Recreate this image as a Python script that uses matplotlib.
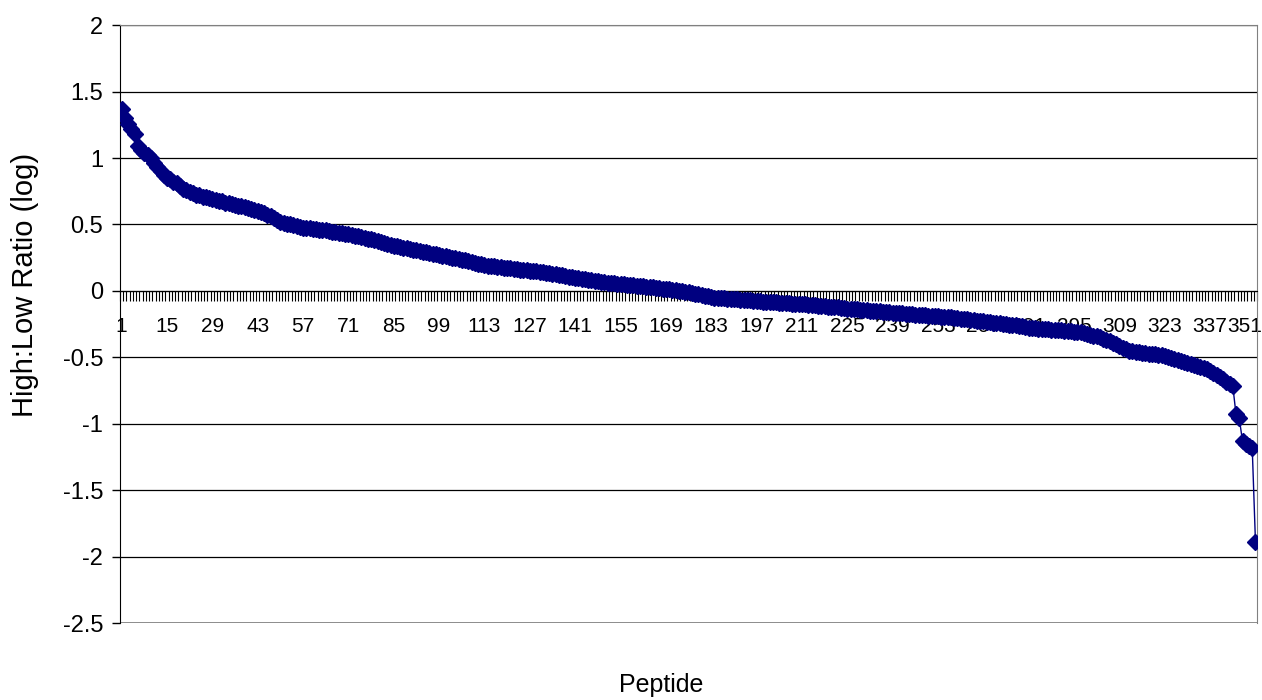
import numpy as np
import matplotlib
matplotlib.use("Agg")
import matplotlib.pyplot as plt
from matplotlib.ticker import FixedLocator, NullFormatter

plt.rcParams['font.family'] = ['Liberation Sans', 'DejaVu Sans']

# High:Low ratio (log) per peptide, sorted
ratio = [
    1.37, 1.30, 1.26, 1.22, 1.18, 1.09, 1.06, 1.04, 1.02, 1.00,
    0.96, 0.93, 0.90, 0.87, 0.85, 0.84, 0.82, 0.81, 0.79, 0.77,
    0.76, 0.745, 0.735, 0.725, 0.72, 0.71, 0.705, 0.70, 0.695, 0.685,
    0.68, 0.675, 0.665, 0.66, 0.655, 0.648, 0.642, 0.636, 0.63, 0.624,
    0.618, 0.61, 0.602, 0.595, 0.585, 0.575, 0.562, 0.55, 0.53, 0.517,
    0.512, 0.506, 0.50, 0.494, 0.487, 0.48, 0.476, 0.473, 0.47, 0.467,
    0.464, 0.461, 0.458, 0.455, 0.45, 0.446, 0.442, 0.438, 0.434, 0.43,
    0.425, 0.42, 0.415, 0.41, 0.405, 0.40, 0.393, 0.387, 0.38, 0.374,
    0.367, 0.361, 0.355, 0.348, 0.341, 0.335, 0.33, 0.325, 0.32, 0.315,
    0.31, 0.305, 0.30, 0.295, 0.29, 0.285, 0.28, 0.275, 0.27, 0.265,
    0.26, 0.255, 0.25, 0.245, 0.24, 0.235, 0.23, 0.224, 0.218, 0.212,
    0.206, 0.20, 0.194, 0.19, 0.187, 0.184, 0.181, 0.178, 0.175, 0.172,
    0.17, 0.167, 0.164, 0.161, 0.158, 0.155, 0.152, 0.149, 0.146, 0.143,
    0.14, 0.136, 0.132, 0.128, 0.124, 0.12, 0.116, 0.112, 0.108, 0.104,
    0.10, 0.097, 0.093, 0.089, 0.085, 0.082, 0.078, 0.074, 0.07, 0.066,
    0.063, 0.06, 0.058, 0.055, 0.052, 0.05, 0.047, 0.044, 0.041, 0.038,
    0.036, 0.034, 0.032, 0.029, 0.026, 0.023, 0.02, 0.017, 0.014, 0.011,
    0.008, 0.005, 0.002, 0.0, -0.005, -0.01, -0.015, -0.02, -0.025, -0.03,
    -0.035, -0.04, -0.045, -0.05, -0.052, -0.054, -0.056, -0.058, -0.06, -0.062,
    -0.064, -0.066, -0.068, -0.07, -0.072, -0.075, -0.077, -0.079, -0.08, -0.082,
    -0.083, -0.085, -0.087, -0.088, -0.09, -0.092, -0.093, -0.095, -0.097, -0.098,
    -0.10, -0.102, -0.105, -0.107, -0.109, -0.111, -0.114, -0.116, -0.118, -0.121,
    -0.123, -0.125, -0.128, -0.13, -0.133, -0.135, -0.137, -0.139, -0.142, -0.144,
    -0.146, -0.148, -0.151, -0.153, -0.155, -0.157, -0.16, -0.162, -0.164, -0.166,
    -0.168, -0.17, -0.172, -0.174, -0.176, -0.178, -0.18, -0.182, -0.184, -0.186,
    -0.188, -0.19, -0.192, -0.194, -0.196, -0.198, -0.20, -0.203, -0.206, -0.209,
    -0.212, -0.215, -0.218, -0.221, -0.224, -0.227, -0.23, -0.233, -0.236, -0.239,
    -0.242, -0.245, -0.248, -0.251, -0.254, -0.257, -0.26, -0.264, -0.268, -0.272,
    -0.276, -0.279, -0.282, -0.284, -0.286, -0.288, -0.29, -0.292, -0.294, -0.296,
    -0.298, -0.30, -0.302, -0.305, -0.307, -0.31, -0.313, -0.318, -0.324, -0.33,
    -0.336, -0.342, -0.35, -0.36, -0.37, -0.38, -0.39, -0.40, -0.415, -0.43,
    -0.44, -0.45, -0.455, -0.46, -0.463, -0.466, -0.469, -0.472, -0.475, -0.477,
    -0.479, -0.482, -0.488, -0.495, -0.502, -0.51, -0.518, -0.525, -0.532, -0.54,
    -0.547, -0.555, -0.562, -0.57, -0.58, -0.59, -0.60, -0.615, -0.63, -0.645,
    -0.665, -0.685, -0.70, -0.715, -0.93, -0.96, -1.13, -1.15, -1.17, -1.18,
    -1.89,
]
peptide = np.arange(1, len(ratio) + 1)
label_step = 14
yticks = [-2.5, -2, -1.5, -1, -0.5, 0, 0.5, 1, 1.5, 2]
ylabels = ['-2.5', '-2', '-1.5', '-1', '-0.5', '0', '0.5', '1', '1.5', '2']

fig = plt.figure(figsize=(12.62, 7.0), dpi=100)
ax = fig.add_axes([0.0951, 0.11, 0.901, 0.854])

n = len(ratio)
ax.set_xlim(0.5, n + 0.5)
ax.set_ylim(-2.5, 2)

# horizontal gridlines
for y in yticks:
    ax.axhline(y, color='black', lw=0.9, zorder=1)

ax.plot(peptide, ratio, color='#000080', lw=1.0, marker='D', ms=8,
        mfc='#000080', mec='#000080', zorder=4)

# y axis
ax.set_yticks(yticks)
ax.set_yticklabels(ylabels)
ax.tick_params(axis='y', direction='out', length=6, width=1, pad=6,
               labelsize=17, colors='black')

# category axis crossing at zero, ticks between categories
xt = peptide[::label_step]
xt_labels = [str(p) for p in xt]
ax.spines['bottom'].set_position(('data', 0))
ax.spines['bottom'].set_color('black')
ax.xaxis.set_major_locator(FixedLocator(xt))
# last label is drawn separately, nudged left so it stays inside the figure
ax.set_xticklabels(xt_labels[:-1] + [''])
ax.xaxis.set_minor_locator(FixedLocator(np.arange(0.5, n + 1, 1.0)))
ax.xaxis.set_minor_formatter(NullFormatter())
ax.tick_params(axis='x', which='major', length=0, pad=19, labelsize=15)
ax.tick_params(axis='x', which='minor', direction='out', length=7, width=0.8)
ax.annotate(xt_labels[-1], xy=(xt[-1], 0), xycoords='data',
            xytext=(-8, -19), textcoords='offset points',
            ha='center', va='top', fontsize=15, zorder=2)

for s in ['top', 'right']:
    ax.spines[s].set_color('#808080')
ax.spines['left'].set_color('black')
ax.axhline(-2.5, color='#808080', lw=1.2, zorder=1)

fig.text(0.020, 0.593, 'High:Low Ratio (log)', rotation=90, ha='center',
         va='center', fontsize=21)
fig.text(0.524, 0.021, 'Peptide', ha='center', va='center', fontsize=18)

fig.savefig('out.png', dpi=100)
